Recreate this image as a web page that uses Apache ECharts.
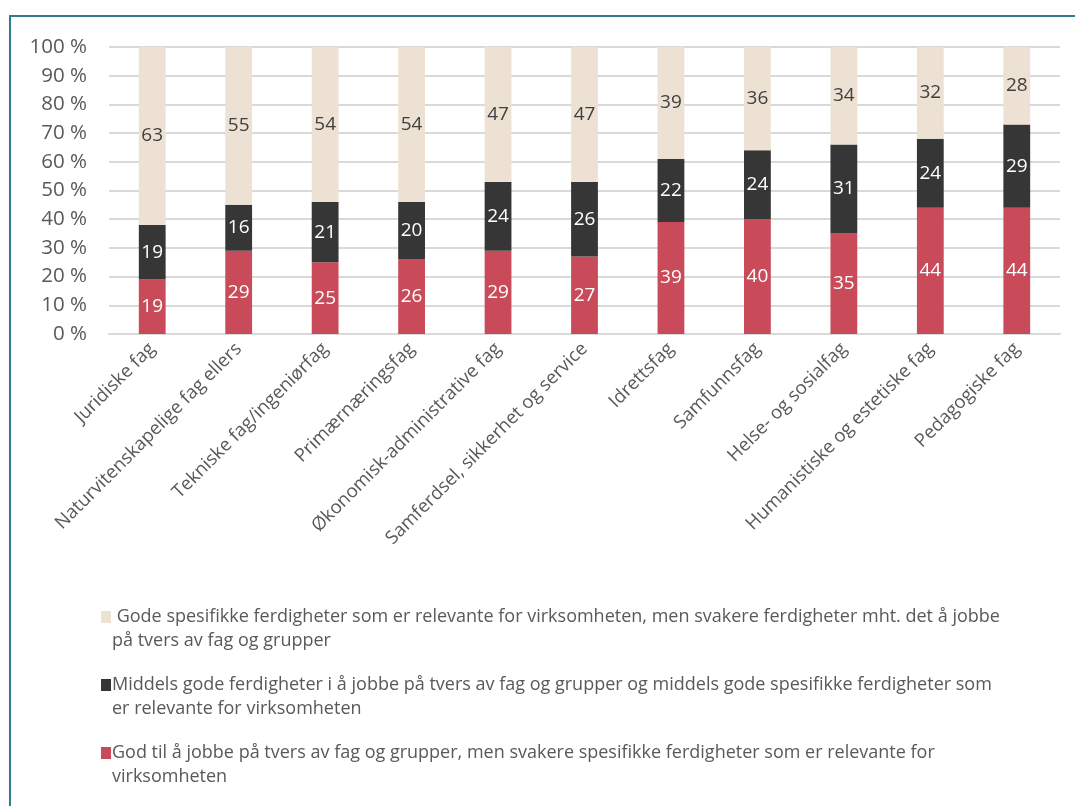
<!DOCTYPE html>
<html>
<head>
<meta charset="utf-8">
<script src="https://cdn.jsdelivr.net/npm/echarts@6/dist/echarts.min.js"></script>
<style>
  html, body { margin: 0; padding: 0; background: #ffffff; }
  #chart { width: 1075px; height: 806px; }
</style>
</head>
<body>
<div id="chart"></div>
<script>
// Fagområder (x-axis categories)
const categories = [
  'Juridiske fag',
  'Naturvitenskapelige fag ellers',
  'Tekniske fag/ingeniørfag',
  'Primærnæringsfag',
  'Økonomisk-administrative fag',
  'Samferdsel, sikkerhet og service',
  'Idrettsfag',
  'Samfunnsfag',
  'Helse- og sosialfag',
  'Humanistiske og estetiske fag',
  'Pedagogiske fag'
];

// Series names
const nameGod = 'God til å jobbe på tvers av fag og grupper, men svakere spesifikke ferdigheter som er relevante for virksomheten';
const nameMiddels = 'Middels gode ferdigheter i å jobbe på tvers av fag og grupper og middels gode spesifikke ferdigheter som er relevante for virksomheten';
const nameSpesifikk = 'Gode spesifikke ferdigheter som er relevante for virksomheten, men svakere ferdigheter mht. det å jobbe på tvers av fag og grupper';

// Percent values per category
const godValues       = [19, 29, 25, 26, 29, 27, 39, 40, 35, 44, 44];
const middelsValues   = [19, 16, 21, 20, 24, 26, 22, 24, 31, 24, 29];
const spesifikkValues = [63, 55, 54, 54, 47, 47, 39, 36, 34, 32, 28];

// Y-axis tick labels
const yTicks = [0, 10, 20, 30, 40, 50, 60, 70, 80, 90, 100];

// Legend text with line breaks
const legendWrapped = {
  [nameSpesifikk]: ' Gode spesifikke ferdigheter som er relevante for virksomheten, men svakere ferdigheter mht. det å jobbe\npå tvers av fag og grupper',
  [nameMiddels]: 'Middels gode ferdigheter i å jobbe på tvers av fag og grupper og middels gode spesifikke ferdigheter som\ner relevante for virksomheten',
  [nameGod]: 'God til å jobbe på tvers av fag og grupper, men svakere spesifikke ferdigheter som er relevante for\nvirksomheten'
};

const FONT = '"Open Sans", "Liberation Sans", sans-serif';
const TXT = '#595959';

// Legend marker: a small square aligned with the first text line of a two-line item
const legendIcon = 'path://M0,0h0.01v0.01h-0.01z M0,6h10v12h-10z M0,47.99h0.01v0.01h-0.01z';

function barSeries(name, data, color, labelColor) {
  return {
    name: name,
    type: 'bar',
    stack: 'total',
    data: data,
    barWidth: '31%',
    itemStyle: { color: color },
    label: {
      show: true,
      position: 'inside',
      color: labelColor,
      fontFamily: FONT,
      fontSize: 19
    },
    emphasis: { disabled: true }
  };
}

const chart = echarts.init(document.getElementById('chart'), null, { renderer: 'canvas' });

chart.setOption({
  animation: false,
  backgroundColor: '#ffffff',
  textStyle: { fontFamily: FONT },
  graphic: [{
    type: 'rect',
    shape: { x: 10, y: 16, width: 1200, height: 900 },
    style: { fill: 'none', stroke: '#2f7c8b', lineWidth: 2 },
    silent: true,
    z: -1
  }],
  grid: { left: 109, right: 15, top: 47, bottom: 472, containLabel: false },
  xAxis: {
    type: 'category',
    data: categories,
    axisTick: { show: false },
    axisLine: { show: true, lineStyle: { color: '#d9d9d9', width: 2 } },
    axisLabel: {
      rotate: 45,
      interval: 0,
      margin: 12,
      color: TXT,
      fontFamily: FONT,
      fontSize: 18.5
    }
  },
  yAxis: {
    type: 'value',
    min: 0,
    max: 100,
    interval: 10,
    axisLine: { show: false },
    axisTick: { show: false },
    splitLine: { lineStyle: { color: '#d9d9d9', width: 2 } },
    axisLabel: {
      margin: 22,
      color: TXT,
      fontFamily: FONT,
      fontSize: 20.5,
      formatter: function (v) { return yTicks.indexOf(v) >= 0 ? v + ' %' : ''; }
    }
  },
  legend: {
    orient: 'vertical',
    left: 96,
    top: 600,
    itemWidth: 10,
    itemHeight: 48,
    itemGap: 20,
    icon: legendIcon,
    data: [nameSpesifikk, nameMiddels, nameGod],
    formatter: function (n) { return legendWrapped[n]; },
    textStyle: {
      color: TXT,
      fontFamily: FONT,
      fontSize: 18,
      lineHeight: 24,
      padding: [0, 0, 0, -4]
    },
    selectedMode: false
  },
  series: [
    barSeries(nameGod, godValues, '#c94b5a', '#ffffff'),
    barSeries(nameMiddels, middelsValues, '#363636', '#ffffff'),
    barSeries(nameSpesifikk, spesifikkValues, '#ede1d3', '#404040')
  ]
});
</script>
</body>
</html>
